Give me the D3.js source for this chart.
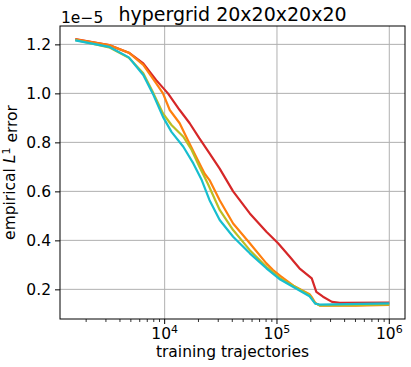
<!DOCTYPE html>
<html>
<head>
<meta charset="utf-8">
<script src="https://cdn.jsdelivr.net/npm/d3@7"></script>
<style>
  body { margin: 0; background: #fff; }
  text { font-family: "DejaVu Sans", sans-serif; fill: #000; }
</style>
</head>
<body>
<div id="chart"></div>
<script>
// x values (training trajectories), y values in units of 1e-5
const redX    = [1600, 3200, 4800, 6450, 8410, 10700, 13600, 16700, 20400, 25100, 30900, 40700, 57300, 80500, 102300, 130000, 158500, 204000, 224000, 257000, 309000, 363000, 1000000];
const redY    = [1.222, 1.197, 1.166, 1.122, 1.054, 1.000, 0.932, 0.878, 0.816, 0.755, 0.693, 0.600, 0.510, 0.435, 0.388, 0.333, 0.286, 0.245, 0.190, 0.170, 0.149, 0.145, 0.146];

const orangeX = [1600, 3200, 4800, 6450, 8410, 9660, 11100, 13600, 16100, 19050, 22650, 25100, 30900, 40700, 57300, 80500, 92300, 107000, 140000, 195000, 204000, 219000, 240000, 500000, 1000000];
const orangeY = [1.221, 1.197, 1.166, 1.116, 1.041, 1.000, 0.932, 0.878, 0.809, 0.741, 0.673, 0.646, 0.564, 0.469, 0.388, 0.306, 0.279, 0.255, 0.215, 0.180, 0.168, 0.145, 0.134, 0.133, 0.137];

const greenX  = [1600, 3200, 4800, 6450, 7950, 9660, 11500, 14660, 17400, 20400, 24300, 30900, 40700, 57300, 80500, 107000, 195000, 204000, 219000, 240000, 500000, 1000000];
const greenY  = [1.218, 1.188, 1.145, 1.082, 1.000, 0.918, 0.871, 0.823, 0.769, 0.700, 0.630, 0.524, 0.442, 0.360, 0.292, 0.245, 0.177, 0.163, 0.143, 0.135, 0.136, 0.139];

const cyanX   = [1600, 3200, 4800, 6450, 7950, 9660, 11500, 14660, 18000, 21380, 25100, 30900, 40700, 57300, 80500, 107000, 195000, 204000, 219000, 240000, 1000000];
const cyanY   = [1.216, 1.190, 1.147, 1.075, 0.993, 0.904, 0.843, 0.782, 0.714, 0.646, 0.564, 0.483, 0.415, 0.347, 0.286, 0.240, 0.172, 0.160, 0.142, 0.138, 0.143];

const series = [
  { name: 'red', xs: redX, ys: redY, color: '#d62728' },
  { name: 'orange', xs: orangeX, ys: orangeY, color: '#ff7f0e' },
  { name: 'green', xs: greenX, ys: greenY, color: '#bcbd22' },
  { name: 'cyan', xs: cyanX, ys: cyanY, color: '#17becf' }
];

const yTicks = [0.2, 0.4, 0.6, 0.8, 1.0, 1.2];
const xTicks = [1e4, 1e5, 1e6];

const width = 411, height = 367;
const margin = { left: 60, right: 6, top: 26, bottom: 48 };
const plotW = width - margin.left - margin.right;
const plotH = height - margin.top - margin.bottom;

const svg = d3.select('#chart').append('svg')
  .attr('width', width)
  .attr('height', height);

const x = d3.scaleLog().domain([1170, 1.38e6]).range([0, plotW]);
const y = d3.scaleLinear().domain([0.079, 1.275]).range([plotH, 0]);

const g = svg.append('g').attr('transform', `translate(${margin.left},${margin.top})`);

// grid
g.selectAll('.vgrid').data(xTicks).enter().append('line')
  .attr('x1', d => x(d)).attr('x2', d => x(d))
  .attr('y1', 0).attr('y2', plotH)
  .attr('stroke', '#b0b0b0').attr('stroke-width', 1);
g.selectAll('.hgrid').data(yTicks).enter().append('line')
  .attr('x1', 0).attr('x2', plotW)
  .attr('y1', d => y(d)).attr('y2', d => y(d))
  .attr('stroke', '#b0b0b0').attr('stroke-width', 1);

// lines
const line = d3.line().x(d => x(d[0])).y(d => y(d[1]));
series.forEach(s => {
  g.append('path')
    .datum(s.xs.map((v, i) => [v, s.ys[i]]))
    .attr('d', line)
    .attr('fill', 'none')
    .attr('stroke', s.color)
    .attr('stroke-width', 2.2)
    .attr('stroke-linejoin', 'round');
});

// spines
g.append('rect')
  .attr('width', plotW).attr('height', plotH)
  .attr('fill', 'none').attr('stroke', '#000').attr('stroke-width', 1);

// y axis
const yAxis = g.append('g').call(d3.axisLeft(y).tickValues(yTicks).tickFormat(d3.format('.1f')).tickSize(5).tickPadding(4));
yAxis.select('.domain').remove();
yAxis.selectAll('text').style('font-size', '15.5px').style('font-family', 'DejaVu Sans');

// x axis minor ticks
const minor = [];
[1e3, 1e4, 1e5, 1e6].forEach(dec => {
  for (let k = 2; k <= 9; k++) {
    const v = dec * k;
    if (v > x.domain()[0] && v < x.domain()[1]) minor.push(v);
  }
});
g.selectAll('.minor').data(minor).enter().append('line')
  .attr('x1', d => x(d)).attr('x2', d => x(d))
  .attr('y1', plotH).attr('y2', plotH + 3)
  .attr('stroke', '#000').attr('stroke-width', 0.8);
g.selectAll('.major').data(xTicks).enter().append('line')
  .attr('x1', d => x(d)).attr('x2', d => x(d))
  .attr('y1', plotH).attr('y2', plotH + 5)
  .attr('stroke', '#000').attr('stroke-width', 1);

const xl = g.selectAll('.xl').data(xTicks).enter().append('text')
  .attr('x', d => x(d))
  .attr('y', plotH + 20)
  .attr('text-anchor', 'middle')
  .style('font-size', '15.5px');
xl.append('tspan').text('10');
xl.append('tspan').attr('dy', '-0.55em').style('font-size', '11px').text(d => Math.round(Math.log10(d)));

// labels
svg.append('text')
  .attr('x', margin.left + plotW / 2)
  .attr('y', 357)
  .attr('text-anchor', 'middle')
  .style('font-size', '15.5px')
  .text('training trajectories');

const yl = svg.append('text')
  .attr('transform', `translate(15,${margin.top + plotH / 2}) rotate(-90)`)
  .attr('text-anchor', 'middle')
  .style('font-size', '15.5px');
yl.append('tspan').text('empirical ');
yl.append('tspan').style('font-style', 'italic').text('L');
yl.append('tspan').attr('dy', '-0.5em').style('font-size', '11px').text('1');
yl.append('tspan').attr('dy', '0.5em').text(' error');

svg.append('text')
  .attr('x', margin.left + plotW / 2)
  .attr('y', 21)
  .attr('text-anchor', 'middle')
  .style('font-size', '19px')
  .text('hypergrid 20x20x20x20');

svg.append('text')
  .attr('x', 61)
  .attr('y', 23)
  .style('font-size', '15.5px')
  .text('1e\u22125');
</script>
</body>
</html>
